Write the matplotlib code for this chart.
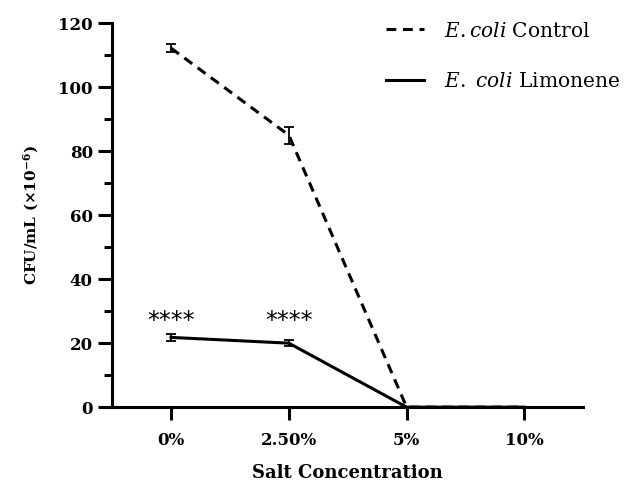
import matplotlib.pyplot as plt
from matplotlib.lines import Line2D
from matplotlib.ticker import MultipleLocator

plt.rcParams['font.family'] = 'DejaVu Serif'
plt.rcParams['mathtext.fontset'] = 'custom'
plt.rcParams['mathtext.it'] = 'DejaVu Serif:italic'
plt.rcParams['mathtext.rm'] = 'DejaVu Serif'
plt.rcParams['mathtext.bf'] = 'DejaVu Serif:bold'

# datos
categories = ['0%', '2.50%', '5%', '10%']
control = [112.2, 85.0, 0.0, 0.0]
control_err = [1.3, 2.7, 0.0, 0.0]
limonene = [21.8, 20.0, 0.0, 0.0]
limonene_err = [1.2, 1.0, 0.0, 0.0]
signif = ['****', '****', '', '']
signif_y = [27, 27, None, None]
series_names = [r'$\it{E.coli}$ Control', r'$\it{E.\ coli}$ Limonene']

x = list(range(len(categories)))
dash = (0, (3.2, 2.2))

fig = plt.figure(figsize=(6.34, 4.83), dpi=100)
ax = fig.add_axes([0.177, 0.157, 0.743, 0.795])

ax.errorbar(x, control, yerr=control_err, color='black', linewidth=2.2,
            linestyle=dash, capsize=3.5, elinewidth=1.3, capthick=1.3)
ax.errorbar(x, limonene, yerr=limonene_err, color='black', linewidth=2.2,
            capsize=3.5, elinewidth=1.3, capthick=1.3)

for xi, s, sy in zip(x, signif, signif_y):
  if s:
    ax.text(xi, sy, s, ha='center', va='center', fontsize=17, family='DejaVu Sans')

ax.set_xlim(-0.5, 3.5)
ax.set_ylim(0, 120)
ax.set_xticks(x)
ax.set_xticklabels(categories, fontsize=12, fontweight='bold')
ax.yaxis.set_major_locator(MultipleLocator(20))
ax.yaxis.set_minor_locator(MultipleLocator(10))
for lab in ax.get_yticklabels():
  lab.set_fontsize(12)
  lab.set_fontweight('bold')

ax.spines['top'].set_visible(False)
ax.spines['right'].set_visible(False)
ax.spines['left'].set_linewidth(2.2)
ax.spines['bottom'].set_linewidth(2.2)
ax.tick_params(axis='y', which='major', length=10, width=2.2, pad=4)
ax.tick_params(axis='y', which='minor', length=6, width=2.2)
ax.tick_params(axis='x', which='major', length=9, width=2.2, pad=9)

ax.set_xlabel('Salt Concentration', fontsize=13, fontweight='bold', labelpad=11)
ax.set_ylabel(r'CFU/mL (×10$^{\mathbf{-6}}$)', fontsize=11, fontweight='bold', labelpad=12)

handles = [Line2D([], [], color='black', linewidth=2.2, linestyle=dash),
           Line2D([], [], color='black', linewidth=2.2)]
ax.legend(handles, series_names, loc='upper left', bbox_to_anchor=(0.58, 0.993),
          bbox_transform=fig.transFigure, frameon=False, fontsize=14.5,
          handlelength=1.9, labelspacing=1.55, handletextpad=1.0)

fig.savefig('out.png', dpi=100)
